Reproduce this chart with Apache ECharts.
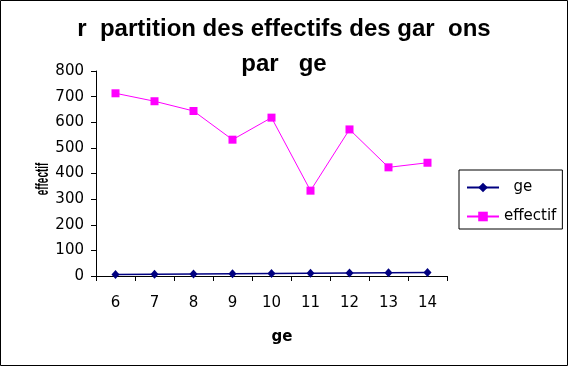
<!DOCTYPE html>
<html>
<head>
<meta charset="utf-8">
<script src="https://cdn.jsdelivr.net/npm/echarts@6/dist/echarts.min.js"></script>
<style>html,body{margin:0;padding:0;background:#fff}#c{width:568px;height:366px}</style>
</head>
<body>
<div id="c"></div>
<script>
const categories = ['6','7','8','9','10','11','12','13','14'];
const ageValues = [6,7,8,9,10,11,12,13,14];
const effectifValues = [713,682,644,532,618,333,572,424,442];
const yTicks = {min:0, max:800, interval:100};
const titleLines = ['r  partition des effectifs des gar  ons', 'par   ge'];
const seriesNames = ['  ge', 'effectif'];
const xName = 'ge';
const yName = 'effectif';

const chart = echarts.init(document.getElementById('c'), null, {renderer:'canvas'});
chart.setOption({
  animation:false,
  backgroundColor:'#fff',
  grid:{left:96, right:121, top:71, bottom:90, containLabel:false},
  legend:{
    orient:'vertical', left:459, top:170,
    borderColor:'#000', borderWidth:1, borderRadius:0,
    padding:[10,6,5,7], itemWidth:32, itemHeight:12, itemGap:14,
    textStyle:{fontFamily:'DejaVu Sans', fontSize:15, color:'#000'},
    data:seriesNames
  },
  xAxis:{
    type:'category', data:categories, boundaryGap:true,
    axisLine:{lineStyle:{color:'#000', width:1}},
    axisTick:{show:true, inside:false, length:5, lineStyle:{color:'#000'}},
    axisLabel:{color:'#000', fontFamily:'DejaVu Sans', fontSize:15, margin:20},
    splitLine:{show:false}
  },
  yAxis:{
    type:'value', min:yTicks.min, max:yTicks.max, interval:yTicks.interval,
    axisLine:{show:true, lineStyle:{color:'#000', width:1}},
    axisTick:{show:true, inside:false, length:5, lineStyle:{color:'#000'}},
    axisLabel:{color:'#000', fontFamily:'DejaVu Sans', fontSize:15, margin:12},
    splitLine:{show:false}
  },
  series:[
    {name:seriesNames[0], type:'line', data:ageValues, symbol:'diamond', symbolSize:[8,9],
     itemStyle:{color:'#000080'}, lineStyle:{color:'#000080', width:1.5}},
    {name:seriesNames[1], type:'line', data:effectifValues, symbol:'rect', symbolSize:8,
     itemStyle:{color:'#ff00ff'}, lineStyle:{color:'#ff00ff', width:1}}
  ],
  graphic:[
    {type:'rect', shape:{x:0.5,y:0.5,width:567,height:365}, style:{fill:'none', stroke:'#000', lineWidth:1}, silent:true},
    {type:'text', x:284, y:12, style:{text:titleLines.join('\n'), fontFamily:'Liberation Sans', fontWeight:'bold', fontSize:24, lineHeight:35, align:'center', verticalAlign:'top', fill:'#000'}},
    {type:'text', x:282, y:337, style:{text:xName, fontFamily:'DejaVu Sans', fontWeight:'bold', fontSize:15, align:'center', verticalAlign:'middle', fill:'#000'}},
    {type:'text', x:43, y:179, rotation:Math.PI/2, scaleX:0.55, style:{text:yName, fontFamily:'Liberation Sans', fontWeight:'bold', fontSize:18, align:'center', verticalAlign:'middle', fill:'#000'}}
  ]
});
</script>
</body>
</html>
